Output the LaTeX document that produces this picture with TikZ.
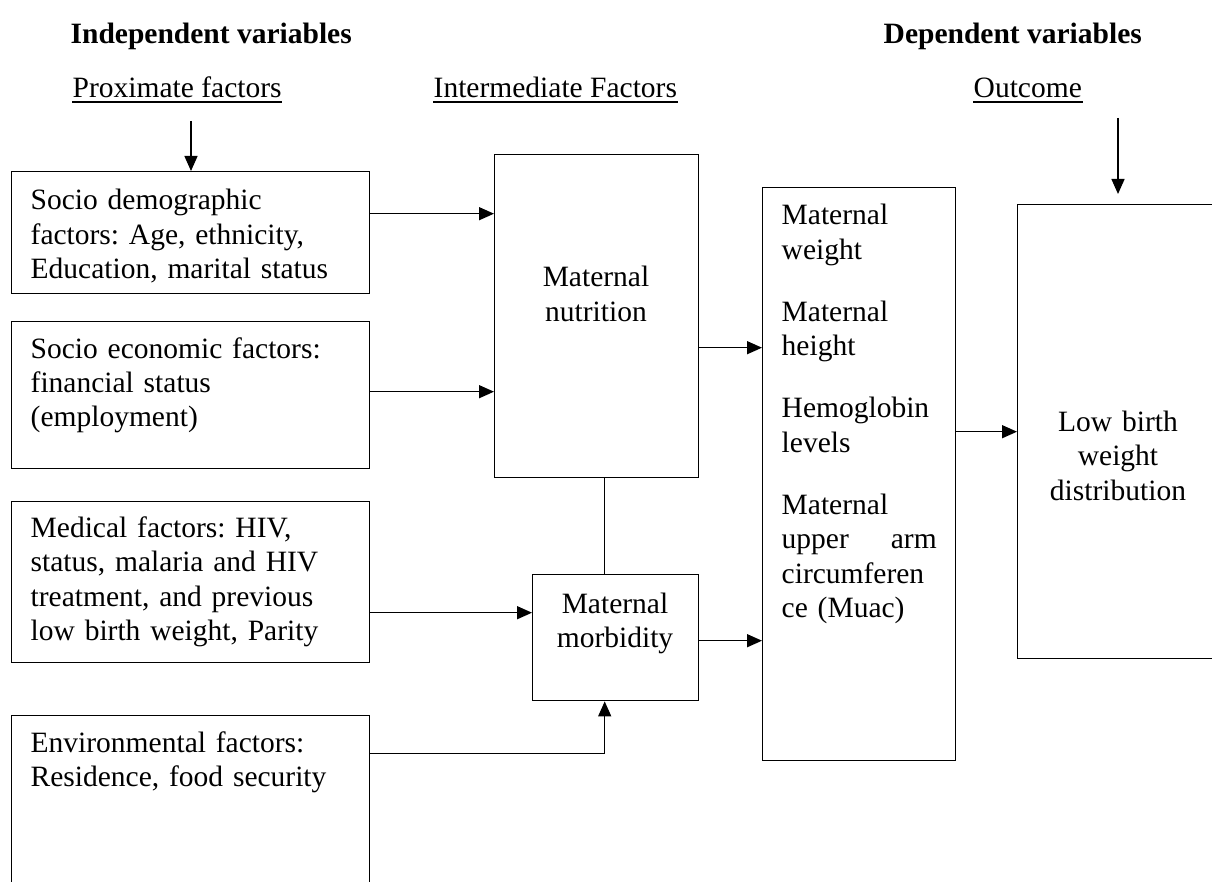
\documentclass[tikz,border=0pt]{standalone}
\usepackage{fontspec}
\setmainfont{Liberation Serif}
\usetikzlibrary{arrows.meta,positioning}
\frenchspacing

\begin{document}
\begin{tikzpicture}[
  x=1pt, y=-1pt,
  >={Triangle[length=15pt,width=13pt]},
  line width=1.4pt,
  box/.style={rectangle, draw, inner sep=0pt, anchor=north west},
  txt/.style={inner sep=0pt, anchor=base west, text width=330pt, align=left, font=\fontsize{29.5}{34.5}\selectfont},
  ctxt/.style={inner sep=0pt, anchor=base, text width=200pt, align=center, font=\fontsize{29.5}{34.5}\selectfont},
  head/.style={inner sep=0pt, anchor=base west, font=\fontsize{29.5}{34.5}\selectfont\bfseries},
  sub/.style={inner sep=0pt, anchor=base west, font=\fontsize{29.5}{34.5}\selectfont},
  flow/.style={->, line width=1.4pt}
]
  \clip (0,0) rectangle (1212,882);
  % headings
  \node[head] (indep) at (70,44) {Independent variables};
  \node[head] (dep) at (883,44) {Dependent variables};
  \node[sub] (prox) at (72,98) {Proximate factors};
  \node[sub] (inter) at (433,98) {Intermediate Factors};
  \node[sub] (outc) at (973,98) {Outcome};
  \foreach \h in {prox,inter,outc}
    \draw ([yshift=-4pt]\h.base west) -- ([yshift=-4pt]\h.base east);

  % proximate factors
  \node[box, minimum width=358pt, minimum height=122pt] (demo) at (11,171) {};
  \node[box, minimum width=358pt, minimum height=147pt] (econ) at (11,321) {};
  \node[box, minimum width=358pt, minimum height=161pt] (med) at (11,501) {};
  \node[box, minimum width=358pt, minimum height=200pt] (env) at (11,715) {};
  \node[txt] (demotxt) at (30,210) {Socio demographic\\factors: Age, ethnicity,\\Education, marital status};
  \node[txt] (econtxt) at (30,358) {Socio economic factors:\\financial status\\(employment)};
  \node[txt] (medtxt) at (30,537) {Medical factors: HIV,\\status, malaria and HIV\\treatment, and previous\\low birth weight, Parity};
  \node[txt] (envtxt) at (30,752) {Environmental factors:\\Residence, food security};

  % intermediate factors
  \node[box, minimum width=204pt, minimum height=323pt] (nutr) at (494,154) {};
  \node[box, minimum width=166pt, minimum height=126pt] (morb) at (532,574) {};
  \node[ctxt] (nutrtxt) at (596,287) {Maternal\\nutrition};
  \node[ctxt] (morbtxt) at (615,613) {Maternal\\morbidity};

  % outcome
  \node[box, minimum width=193pt, minimum height=573pt] (mid) at (762,187) {};
  \node[box, minimum width=290pt, minimum height=454pt] (lbw) at (1017,204) {};
  \node[txt, text width=155pt] (midtxt) at (781,225) {Maternal\\weight\\[27.5pt]Maternal\\height\\[27.5pt]Hemoglobin\\levels\\[27.5pt]Maternal\\upper\hskip 0pt plus 1filll arm\\circumferen\\ce (Muac)};
  \node[ctxt] (lbwtxt) at (1118,431) {Low birth\\weight\\distribution};

  % arrows
  \coordinate (proxtop) at (191,121);
  \coordinate (outtop) at (1118,118);
  \draw[flow] (proxtop) -- (proxtop |- demo.north);
  \draw[flow, shorten >=10pt] (outtop) -- (outtop |- lbw.north);
  \draw[flow] ([yshift=19pt]demo.east) -- ([yshift=19pt]demo.east -| nutr.west);
  \draw[flow] ([yshift=3.5pt]econ.east) -- ([yshift=3.5pt]econ.east -| nutr.west);
  \draw[flow] ([yshift=-30.5pt]med.east) -- ([yshift=-30.5pt]med.east -| morb.west);
  \draw[flow] ([yshift=62pt]env.east) -| ([xshift=-11pt]morb.south);
  \draw ([xshift=8pt]nutr.south) -- ([xshift=8pt]nutr.south |- morb.north);
  \draw[flow] ([yshift=-31.5pt]nutr.east) -- ([yshift=-31.5pt]nutr.east -| mid.west);
  \draw[flow] ([yshift=-3pt]morb.east) -- ([yshift=-3pt]morb.east -| mid.west);
  \draw[flow] ([yshift=42.5pt]mid.east) -- ([yshift=42.5pt]mid.east -| lbw.west);
\end{tikzpicture}
\end{document}
